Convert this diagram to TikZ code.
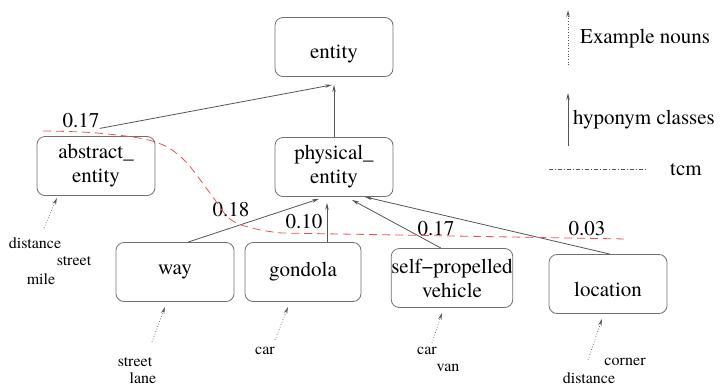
\documentclass[tikz,border=0pt]{standalone}
\usepackage{fontspec}
\setmainfont{texgyretermes-regular.otf}
\usetikzlibrary{arrows.meta}
\definecolor{boxBorder}{HTML}{707070}
\definecolor{lineGray}{HTML}{555555}
\definecolor{tcmRed}{HTML}{F05050}

\begin{document}
\begin{tikzpicture}[
    x=1pt, y=-1pt,
    cls/.style={
        rectangle, draw=boxBorder,
        minimum width=118pt, minimum height=59pt,
        inner sep=0pt, align=center,
        rounded corners=8pt, line width=0.8pt,
        font=\fontsize{21}{24}\selectfont
    },
    num/.style={inner sep=0pt, font=\fontsize{21}{24}\selectfont},
    noun/.style={inner sep=0pt, font=\fontsize{16}{18}\selectfont},
    hypo/.style={-{Stealth[length=7pt,width=3.5pt]}, draw=lineGray, line width=0.8pt},
    eg/.style={-{Stealth[open,length=7pt,width=3.5pt]}, draw=lineGray, line width=0.7pt, dotted},
    tcm/.style={draw=tcmRed, line width=0.8pt, dash pattern=on 8pt off 5pt}
]
  \useasboundingbox (0,0) rectangle (722,386);

  % Class nodes
  \node[cls, text height=28pt, text depth=4.6pt] (entity) at (334,47) {entity};
  \node[cls] (abs) at (96,166) {abstract\_\\entity};
  \node[cls] (phys) at (334,167) {physical\_\\entity};
  \node[cls] (way) at (175,272) {way};
  \node[cls, minimum width=116pt] (gond) at (303,272) {gondola};
  \node[cls, minimum width=120pt] (self) at (452,278) {self−propelled\\vehicle};
  \node[cls, text height=24pt, text depth=0pt] (loc) at (608,284) {location};

  % tcm values
  \node[num] (t1) at (81,121) {0.17};
  \node[num] (t2) at (231,210) {0.18};
  \node[num] (t3) at (304,222) {0.10};
  \node[num] (t4) at (436,229) {0.17};
  \node[num] (t5) at (587,229) {0.03};

  % Hyponym arrows
  \draw[hypo] (t1.south east) -- ([xshift=-2pt,yshift=-8pt]entity.south);
  \draw[hypo, shorten >=8pt] (phys) -- (entity);
  \draw[hypo] ([xshift=13pt]way.north) -- ([xshift=-15pt,yshift=-2pt]phys.south);
  \draw[hypo] ([xshift=24pt]gond.north) -- ([xshift=-7pt,yshift=-6pt]phys.south);
  \draw[hypo] ([xshift=-11pt]self.north) -- ([xshift=18pt,yshift=-3pt]phys.south);
  \draw[hypo] ([xshift=2pt]loc.north) -- ([xshift=31pt]phys.south);

  % tcm cut
  \draw[tcm] plot[smooth, tension=0.6] coordinates {(43,131) (97,133) (152,141) (182,158) (210,193) (230,219) (256,229) (282,233)}
      -- (627,239);

  % Example nouns
  \node[noun] (nA1) at (35,243) {distance};
  \node[noun] (nA2) at (74,261) {street};
  \node[noun] (nA3) at (41,279) {mile};
  \node[noun] (nW1) at (135,362) {street};
  \node[noun] (nW2) at (143,378) {lane};
  \node[noun] (nG1) at (265,351) {car};
  \node[noun] (nS1) at (427,351) {car};
  \node[noun] (nS2) at (448,368) {van};
  \node[noun] (nL1) at (625,362) {corner};
  \node[noun] (nL2) at (589,378) {distance};

  \coordinate (eA) at (44,228);
  \coordinate (eW) at (152,342);
  \coordinate (eG) at (275,340);
  \coordinate (eS) at (432,343);
  \coordinate (eL) at (588,360);

  \draw[eg] (eA) -- ([xshift=-39pt,yshift=-2pt]abs.south);
  \draw[eg] (eW) -- ([xshift=-10pt,yshift=-5pt]way.south);
  \draw[eg] (eG) -- ([xshift=-15pt,yshift=-5pt]gond.south);
  \draw[eg] (eS) -- ([xshift=-10pt,yshift=-5pt]self.south);
  \draw[eg] (eL) -- ([xshift=-6pt,yshift=-5pt]loc.south);

  % Legend
  \coordinate (lg1a) at (568,65);
  \coordinate (lg1b) at (568,10);
  \coordinate (lg2a) at (568,146);
  \coordinate (lg2b) at (568,93);
  \coordinate (lg3a) at (549,169);
  \coordinate (lg3b) at (646,169);
  \draw[eg] (lg1a) -- (lg1b);
  \draw[hypo] (lg2a) -- (lg2b);
  \draw[draw=lineGray, line width=0.6pt, dash pattern=on 4pt off 2pt on 1pt off 2pt] (lg3a) -- (lg3b);
  \node[num, anchor=base west] (lgEx) at (580,43) {Example nouns};
  \node[num, anchor=base west] (lgHy) at (573,124) {hyponym classes};
  \node[num, anchor=base west] (lgTc) at (670,175) {tcm};

\end{tikzpicture}
\end{document}
